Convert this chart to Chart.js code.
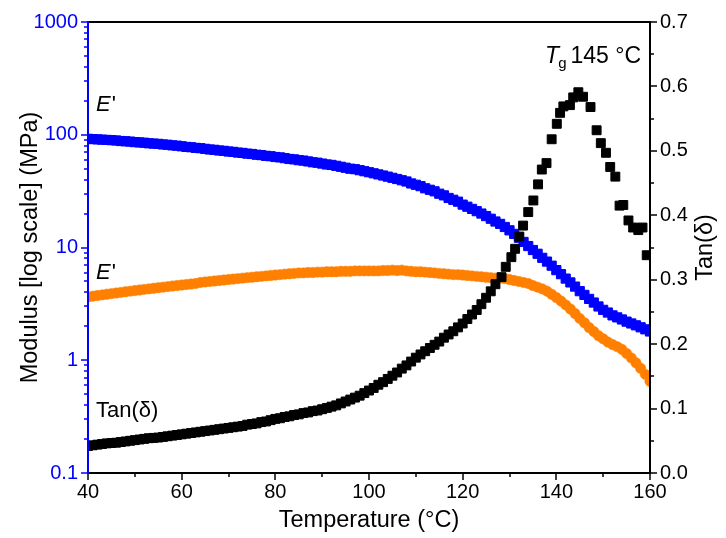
<!DOCTYPE html>
<html>
<head>
<meta charset="utf-8">
<script src="https://cdn.jsdelivr.net/npm/chart.js@4.4.1/dist/chart.umd.min.js"></script>
<style>
  html, body { margin: 0; padding: 0; background: #fff; }
  #wrap { width: 726px; height: 538px; }
</style>
</head>
<body>
<div id="wrap"><canvas id="dma" width="726" height="538"></canvas></div>
<script>
// DMA temperature sweep: storage modulus E', loss modulus E'' (MPa) and tan(delta)
const temperature = [
  40,41,42,43,44,45,46,47,48,49,50,51,52,53,54,55,56,57,58,59,
  60,61,62,63,64,65,66,67,68,69,70,71,72,73,74,75,76,77,78,79,
  80,81,82,83,84,85,86,87,88,89,90,91,92,93,94,95,96,97,98,99,
  100,101,102,103,104,105,106,107,108,109,110,111,112,113,114,115,116,117,118,119,
  120,121,122,123,124,125,126,127,128,129,130,131,132,133,134,135,136,137,138,139,
  140,141,142,143,144,145,146,147,148,149,150,151,152,153,154,155,156,157,158,159,160
];

const storageModulus = [
  92,91.5,91,90.5,90,89.5,89,88,87.5,87,86,85.5,85,84,83.5,83,82,81.5,80.5,80,
  79,78,77.5,76.5,76,75,74,73.5,72.5,72,71,70.5,69.5,69,68,67.5,66.5,66,65,64.5,
  63.5,63,62,61,60.5,59.5,59,58,57,56.5,55.5,54.5,54,53,52,51,50,49.5,48.5,47.5,
  46.5,45.5,44.5,43.5,42.5,41.5,40.5,39.5,38.5,37,36,35,33.5,32.5,31.5,30,29,27.5,26.5,25.5,
  24,23,22,21,20,19,18,17,16.2,15.2,14.2,13.2,12.2,11.2,10.3,9.5,8.8,8.1,7.5,6.9,
  6.3,5.8,5.3,4.9,4.5,4.1,3.8,3.5,3.25,3.0,2.8,2.65,2.5,2.4,2.3,2.2,2.12,2.04,1.96,1.88,1.8
];

const lossModulus = [
  3.65,3.7,3.75,3.8,3.85,3.9,3.95,4.0,4.05,4.1,4.15,4.2,4.25,4.3,4.35,4.4,4.45,4.5,4.55,4.6,
  4.65,4.7,4.75,4.8,4.9,4.95,5.0,5.05,5.1,5.15,5.2,5.25,5.3,5.35,5.4,5.45,5.5,5.55,5.6,5.65,
  5.7,5.75,5.8,5.85,5.9,5.95,5.95,6.0,6.0,6.05,6.05,6.1,6.1,6.1,6.15,6.15,6.15,6.2,6.2,6.2,
  6.2,6.2,6.2,6.25,6.25,6.3,6.25,6.3,6.2,6.15,6.1,6.1,6.05,6.0,5.95,5.9,5.85,5.8,5.75,5.75,
  5.7,5.65,5.6,5.55,5.5,5.45,5.4,5.35,5.35,5.3,5.2,5.1,5.0,4.9,4.8,4.6,4.45,4.3,4.1,3.85,
  3.6,3.35,3.1,2.85,2.6,2.35,2.15,1.95,1.8,1.65,1.55,1.45,1.38,1.32,1.25,1.15,1.05,0.95,0.85,0.75,0.65
];

const tanTemperature = [
  40,41,42,43,44,45,46,47,48,49,50,51,52,53,54,55,56,57,58,59,
  60,61,62,63,64,65,66,67,68,69,70,71,72,73,74,75,76,77,78,79,
  80,81,82,83,84,85,86,87,88,89,90,91,92,93,94,95,96,97,98,99,
  100,101,102,103,104,105,106,107,108,109,110,111,112,113,114,115,116,117,118,119,
  120,121,122,123,124,125,126,127,
  128.3,129.2,130.4,131.2,132.1,132.9,134.0,135.1,136.1,136.9,137.9,139.0,140.1,140.8,141.5,142.9,
  143.6,144.7,145.7,147.3,148.6,149.5,150.6,151.5,152.6,153.5,154.3,155.4,156.4,157.5,158.4,159.3
];

const tanDelta = [
  0.042,0.043,0.044,0.045,0.046,0.0465,0.047,0.048,0.049,0.050,0.051,0.052,0.053,0.054,0.0545,0.055,0.056,0.057,0.058,0.059,
  0.060,0.061,0.062,0.063,0.064,0.065,0.066,0.067,0.068,0.069,0.070,0.071,0.072,0.073,0.075,0.076,0.077,0.079,0.080,0.082,
  0.084,0.085,0.087,0.088,0.090,0.091,0.093,0.094,0.096,0.097,0.099,0.101,0.103,0.105,0.108,0.111,0.114,0.117,0.120,0.124,
  0.128,0.132,0.137,0.141,0.146,0.151,0.156,0.162,0.167,0.173,0.179,0.184,0.189,0.194,0.199,0.204,0.210,0.215,0.220,0.226,
  0.232,0.239,0.246,0.253,0.262,0.272,0.282,0.293,
  0.304,0.320,0.335,0.348,0.367,0.384,0.405,0.423,0.448,0.471,0.481,0.518,0.542,0.559,0.569,0.571,
  0.583,0.591,0.584,0.568,0.532,0.512,0.497,0.475,0.460,0.415,0.416,0.392,0.381,0.377,0.381,0.338
];

// axis ticks
const temperatureTicks = [40, 60, 80, 100, 120, 140, 160];
const modulusTicks = [0.1, 1, 10, 100, 1000];
const modulusTickLabels = ['0.1', '1', '10', '100', '1000'];
const tanTicks = [0, 0.1, 0.2, 0.3, 0.4, 0.5, 0.6, 0.7];
const tanTickLabels = ['0.0', '0.1', '0.2', '0.3', '0.4', '0.5', '0.6', '0.7'];

const BLUE = '#0000ff';
const ORANGE = '#ff8000';
const FONT = "'Liberation Sans', Arial, sans-serif";

const pairs = (xs, ys) => xs.map((v, i) => ({ x: v, y: ys[i] }));

// tick marks, frame and in-plot annotations
const frameAndLabels = {
  id: 'frameAndLabels',
  afterDatasetsDraw(chart) {
    const { ctx, chartArea: a, scales } = chart;
    const x = scales.x, y = scales.y, y2 = scales.y2;
    const seg = (x1, y1, x2, y2_) => { ctx.beginPath(); ctx.moveTo(x1, y1); ctx.lineTo(x2, y2_); ctx.stroke(); };
    ctx.save();

    // bottom axis ticks (major + minor)
    ctx.strokeStyle = '#000';
    ctx.lineWidth = 1.5;
    for (let i = 0; i < temperatureTicks.length; i++) {
      const px = Math.round(x.getPixelForValue(temperatureTicks[i]));
      seg(px, a.bottom, px, a.bottom + 7);
      if (i < temperatureTicks.length - 1) {
        const mid = (temperatureTicks[i] + temperatureTicks[i + 1]) / 2;
        const pm = Math.round(x.getPixelForValue(mid));
        seg(pm, a.bottom, pm, a.bottom + 4);
      }
    }

    // right axis ticks
    for (let i = 0; i < tanTicks.length; i++) {
      const py = Math.round(y2.getPixelForValue(tanTicks[i]));
      seg(a.right, py, a.right + 7, py);
      if (i < tanTicks.length - 1) {
        const pm = Math.round(y2.getPixelForValue((tanTicks[i] + tanTicks[i + 1]) / 2));
        seg(a.right, pm, a.right + 4, pm);
      }
    }

    // left (log) axis ticks
    ctx.strokeStyle = BLUE;
    for (let i = 0; i < modulusTicks.length; i++) {
      const dec = modulusTicks[i];
      const py = Math.round(y.getPixelForValue(dec));
      seg(a.left, py, a.left - 7, py);
      if (i < modulusTicks.length - 1) {
        for (let m = 2; m <= 9; m++) {
          const pm = Math.round(y.getPixelForValue(dec * m));
          seg(a.left, pm, a.left - 4, pm);
        }
      }
    }

    // frame
    ctx.lineWidth = 2;
    ctx.strokeStyle = '#000';
    seg(a.left, a.top, a.right + 1, a.top);
    seg(a.left - 1, a.bottom, a.right + 1, a.bottom);
    seg(a.right, a.top - 1, a.right, a.bottom + 1);
    ctx.strokeStyle = BLUE;
    seg(a.left, a.top - 1, a.left, a.bottom + 1);

    // right axis title, reading bottom to top
    ctx.fillStyle = '#000';
    ctx.font = '23.5px ' + FONT;
    ctx.textAlign = 'center';
    ctx.textBaseline = 'middle';
    ctx.save();
    ctx.translate(706, (a.top + a.bottom) / 2);
    ctx.rotate(-Math.PI / 2);
    ctx.fillText('Tan(\u03b4)', 0, 0);
    ctx.restore();

    // curve labels
    ctx.textAlign = 'left';
    ctx.textBaseline = 'alphabetic';
    const lx = x.getPixelForValue(41.7);
    const primeLabel = (baseValue, prime) => {
      const py = y.getPixelForValue(baseValue);
      ctx.font = 'italic 22px ' + FONT;
      ctx.fillText('E', lx, py);
      const w = ctx.measureText('E').width;
      ctx.font = '22px ' + FONT;
      ctx.fillText(prime, lx + w + 1, py);
    };
    primeLabel(163, "'");
    primeLabel(5.3, "'");

    ctx.font = '22px ' + FONT;
    ctx.fillText('Tan(\u03b4)', lx, y2.getPixelForValue(0.087));

    // glass transition label
    const tx = x.getPixelForValue(137.6);
    const ty = y2.getPixelForValue(0.637);
    ctx.font = 'italic 23px ' + FONT;
    ctx.fillText('T', tx, ty);
    const tw = ctx.measureText('T').width;
    ctx.font = '15px ' + FONT;
    ctx.fillText('g', tx + tw - 1, ty + 5);
    const gw = ctx.measureText('g').width;
    ctx.font = '23px ' + FONT;
    ctx.fillText('145 \u00b0C', tx + tw + gw + 3, ty);

    ctx.restore();
  }
};

new Chart(document.getElementById('dma'), {
  type: 'scatter',
  data: {
    datasets: [
      {
        label: 'Tan(\u03b4)',
        data: pairs(tanTemperature, tanDelta),
        yAxisID: 'y2',
        pointStyle: 'rect',
        pointRadius: 6.3,
        borderWidth: 1,
        backgroundColor: '#000',
        borderColor: '#000',
        order: 0,
        clip: 0
      },
      {
        label: "E'",
        data: pairs(temperature, storageModulus),
        yAxisID: 'y',
        pointStyle: 'rect',
        pointRadius: 6.5,
        borderWidth: 1,
        backgroundColor: BLUE,
        borderColor: BLUE,
        order: 1,
        clip: 0
      },
      {
        label: "E''",
        data: pairs(temperature, lossModulus),
        yAxisID: 'y',
        pointStyle: 'circle',
        pointRadius: 5.2,
        borderWidth: 0.5,
        backgroundColor: ORANGE,
        borderColor: ORANGE,
        order: 2,
        clip: 0
      }
    ]
  },
  options: {
    responsive: false,
    animation: false,
    devicePixelRatio: 1,
    layout: { padding: { top: 22, left: 0, right: 0, bottom: 0 } },
    plugins: { legend: { display: false }, tooltip: { enabled: false } },
    scales: {
      x: {
        type: 'linear',
        position: 'bottom',
        min: 40,
        max: 160,
        afterBuildTicks: s => { s.ticks = temperatureTicks.map(v => ({ value: v })); },
        grid: { display: false, drawTicks: false },
        border: { display: false },
        ticks: {
          autoSkip: false,
          maxRotation: 0,
          padding: 7,
          color: '#000',
          font: { family: FONT, size: 20 },
          callback: v => String(v)
        },
        title: {
          display: true,
          text: 'Temperature (\u00b0C)',
          color: '#000',
          font: { family: FONT, size: 23.5 },
          padding: { top: 0, bottom: 3 }
        },
        afterFit: s => { s.height = 65; }
      },
      y: {
        type: 'logarithmic',
        position: 'left',
        min: 0.1,
        max: 1000,
        afterBuildTicks: s => { s.ticks = modulusTicks.map(v => ({ value: v })); },
        grid: { display: false, drawTicks: false },
        border: { display: false },
        ticks: {
          autoSkip: false,
          padding: 10,
          color: BLUE,
          font: { family: FONT, size: 20 },
          callback: v => modulusTickLabels[modulusTicks.indexOf(v)]
        },
        title: {
          display: true,
          text: 'Modulus [log scale] (MPa)',
          color: '#000',
          font: { family: FONT, size: 23.5 },
          padding: { top: 16, bottom: 0 }
        },
        afterFit: s => { s.width = 88; }
      },
      y2: {
        type: 'linear',
        position: 'right',
        min: 0,
        max: 0.7,
        afterBuildTicks: s => { s.ticks = tanTicks.map(v => ({ value: v })); },
        grid: { display: false, drawTicks: false },
        border: { display: false },
        ticks: {
          autoSkip: false,
          padding: 10,
          color: '#000',
          font: { family: FONT, size: 20 },
          callback: v => tanTickLabels[tanTicks.findIndex(t => Math.abs(t - v) < 1e-9)]
        },
        afterFit: s => { s.width = 76; }
      }
    }
  },
  plugins: [frameAndLabels]
});
</script>
</body>
</html>
